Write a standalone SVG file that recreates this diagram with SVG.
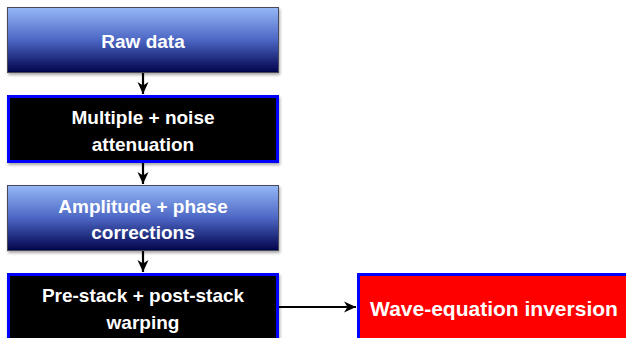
<svg xmlns="http://www.w3.org/2000/svg" width="626" height="338" viewBox="0 0 626 338">
  <style>
    .lbl { font-family: "Liberation Sans", Arial, sans-serif; font-weight: bold; font-size: 19px; fill: #ffffff; text-anchor: middle; }
    .big { font-size: 21px; }
    .grad { fill: url(#blueFade); stroke: #4a4a5a; stroke-width: 1; filter: url(#shade); }
    .dark { fill: #000000; stroke: #0000ff; stroke-width: 3; filter: url(#shade); }
    .alert { fill: #ff0000; stroke: #0000ff; stroke-width: 3; }
    .wire { stroke: #000000; stroke-width: 2.2; fill: none; marker-end: url(#head); }
  </style>
  <defs>
    <linearGradient id="blueFade" x1="0" y1="0" x2="0" y2="1">
      <stop offset="0" stop-color="#95b8f6"/>
      <stop offset="0.5" stop-color="#4c66c4"/>
      <stop offset="1" stop-color="#01034c"/>
    </linearGradient>
    <filter id="shade" x="-5%" y="-10%" width="115%" height="130%">
      <feDropShadow dx="1" dy="2" stdDeviation="1.5" flood-color="#000000" flood-opacity="0.35"/>
    </filter>
    <marker id="head" viewBox="0 0 14 14" refX="13" refY="7" markerWidth="14" markerHeight="14" markerUnits="userSpaceOnUse" orient="auto">
      <path d="M1,1.5 L13,7 L1,12.5 L4.5,7 Z" fill="#000000"/>
    </marker>
  </defs>

  <g id="connectors">
    <line class="wire" x1="143" y1="73" x2="143" y2="94"/>
    <line class="wire" x1="143" y1="163" x2="143" y2="184"/>
    <line class="wire" x1="143" y1="251" x2="143" y2="272"/>
    <line class="wire" x1="279" y1="307" x2="356" y2="307"/>
  </g>

  <g id="raw-data">
    <rect class="grad" x="7.5" y="7.5" width="271" height="65"/>
    <text class="lbl" x="143" y="48">Raw data</text>
  </g>

  <g id="multiple-noise">
    <rect class="dark" x="8.5" y="96.5" width="269" height="65"/>
    <text class="lbl" x="143" y="124">Multiple + noise</text>
    <text class="lbl" x="143" y="151">attenuation</text>
  </g>

  <g id="amplitude-phase">
    <rect class="grad" x="7.5" y="185.5" width="271" height="65"/>
    <text class="lbl" x="143" y="213">Amplitude + phase</text>
    <text class="lbl" x="143" y="239">corrections</text>
  </g>

  <g id="warping">
    <rect class="dark" x="8.5" y="274.5" width="269" height="66"/>
    <text class="lbl" x="143" y="302">Pre-stack + post-stack</text>
    <text class="lbl" x="143" y="329">warping</text>
  </g>

  <g id="inversion">
    <rect class="alert" x="358.5" y="274.5" width="272" height="66"/>
    <text class="lbl big" x="494" y="316">Wave-equation inversion</text>
  </g>
</svg>
